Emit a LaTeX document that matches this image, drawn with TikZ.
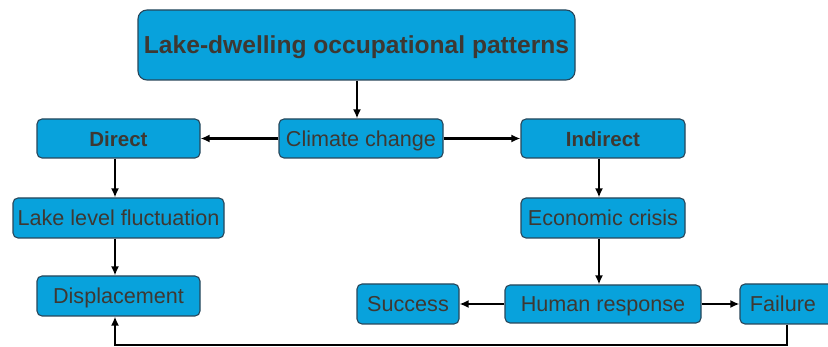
\documentclass[tikz,border=0pt]{standalone}
\usepackage{fontspec}
\setmainfont{Liberation Sans}
\usetikzlibrary{arrows.meta}
\definecolor{boxfill}{RGB}{8,162,220}
\definecolor{boxtext}{RGB}{62,56,50}
\definecolor{boxline}{RGB}{40,70,90}
\begin{document}
\begin{tikzpicture}[x=1pt,y=-1pt,
  box/.style={draw=boxline, line width=1.1pt, fill=boxfill, rounded corners=5pt,
    text=boxtext, inner sep=0pt, text height=15.5pt, text depth=0pt,
    font=\fontsize{21.6}{24}\selectfont},
  arr/.style={line width=2.1pt, -{Latex[length=9pt,width=8pt]}}]
\useasboundingbox[fill=white] (0,0) rectangle (828,347);
\node[box, rounded corners=9pt, minimum width=437pt, minimum height=70pt, text height=17.5pt, font=\fontsize{24.6}{28}\selectfont\bfseries] (top) at (356.5,45) {Lake-dwelling occupational patterns};
\node[box, minimum width=164pt, minimum height=39pt] (climate) at (361,138.5) {Climate change};
\node[box, minimum width=163pt, minimum height=39pt, font=\fontsize{20.5}{24}\selectfont\bfseries] (direct) at (118.5,138.5) {Direct};
\node[box, minimum width=164pt, minimum height=39pt, font=\fontsize{20.5}{24}\selectfont\bfseries] (indirect) at (603,138.5) {Indirect};
\node[box, minimum width=211pt, minimum height=40pt] (lake) at (118.5,218) {Lake level fluctuation};
\node[box, minimum width=163pt, minimum height=40pt] (displ) at (118.5,296) {Displacement};
\node[box, minimum width=164pt, minimum height=40pt] (econ) at (603,218) {Economic crisis};
\node[box, minimum width=196pt, minimum height=38pt] (human) at (603,304) {Human response};
\node[box, minimum width=102pt, minimum height=40pt] (success) at (408,304) {Success};
\node[box, minimum width=100pt, minimum height=40pt] (failure) at (790,304) {\hspace*{-14pt}Failure};
\coordinate (c1) at (787,345);
\coordinate (c2) at (115,345);
\draw[arr] (top.south -| 357,0) -- (climate.north -| 357,0);
\draw[arr] (climate.west) -- (direct.east);
\draw[arr] (climate.east) -- (indirect.west);
\draw[arr] (direct.south -| 115,0) -- (lake.north -| 115,0);
\draw[arr] (lake.south -| 115,0) -- (displ.north -| 115,0);
\draw[arr] (indirect.south -| 599,0) -- (econ.north -| 599,0);
\draw[arr] (econ.south -| 599,0) -- (human.north -| 599,0);
\draw[arr] (human.west) -- (success.east);
\draw[arr] (human.east) -- (failure.west);
\draw[arr] (failure.south -| c1) -- (c1) -- (c2) -- (displ.south -| c2);
\end{tikzpicture}
\end{document}
